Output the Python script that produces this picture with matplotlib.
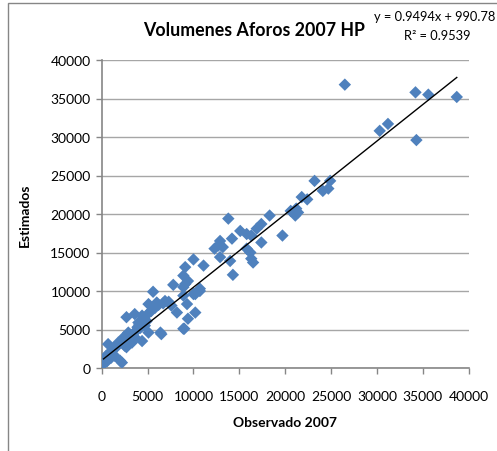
import numpy as np
import matplotlib.pyplot as plt
from matplotlib.patches import Rectangle

# observed vs estimated volumes (veh/h)
observado = [26500, 34200, 35600, 38700, 30300, 31200, 34300,
             23200, 24900, 24100, 24700, 21800, 22400, 20600, 21200, 21100, 21400,
             18300, 19700, 13800, 17400, 16900, 15100, 15800, 16300, 14200, 12900,
             12700, 13200, 12300, 17400, 15800, 16200, 16300, 16500, 12900, 14000,
             14300, 11100, 10000, 9100, 8900, 9400, 7800, 8900, 10700, 10000, 5600,
             9100, 10200, 8900, 6900, 6000, 5100, 7600, 8200, 9300, 10200, 9400,
             8900, 6400, 2700, 3600, 4400, 4000, 4700, 5100, 4400, 3600, 2900,
             2400, 1800, 2500, 700, 1100, 2000, 200, 500, 1400, 2700, 3300, 5400,
             4900, 9000, 6500, 2200, 10700, 3000, 3800, 4200, 1500, 800, 300,
             1200, 3100, 4600, 5800, 6700, 7300, 2300, 3500, 4100, 600, 1700,
             5000, 6200, 3900, 2800, 1000, 4800]
estimados = [36800, 35800, 35500, 35200, 30800, 31700, 29600,
             24300, 24300, 23000, 23300, 22200, 21900, 20400, 20700, 19800, 20200,
             19800, 17200, 19400, 18700, 18100, 17800, 17400, 17200, 16800, 16500,
             15900, 15700, 15500, 16300, 15500, 15000, 14200, 13700, 14400, 13900,
             12100, 13300, 14100, 13100, 12000, 11300, 10800, 10500, 10300, 9600, 9900,
             10900, 9600, 9400, 8700, 8500, 8300, 8100, 7200, 8300, 7200, 6400,
             5100, 4600, 6600, 7000, 6800, 5900, 5500, 4600, 3500, 4000, 4600,
             4000, 3300, 2900, 3100, 2200, 950, 500, 1600, 1600, 2700, 3300, 7400,
             6100, 5100, 4400, 700, 10000, 3800, 4900, 5200, 2600, 1900, 1100,
             2400, 4300, 6400, 7800, 8400, 8600, 3600, 4500, 5600, 900, 3000,
             7000, 8200, 5300, 4200, 1300, 6000]

slope = 0.9494
intercept = 990.78
r2 = 0.9539

x_ticks = np.arange(0, 40001, 5000)
y_ticks = np.arange(0, 40001, 5000)

plt.rcParams['font.family'] = ['Lato', 'DejaVu Sans']

fig = plt.figure(figsize=(4.97, 4.52), dpi=100)
ax = fig.add_axes([101.7 / 497, 1 - 369 / 452, 367 / 497, 308 / 452])

# chart frame
fig.patches.append(Rectangle((8 / 497, -0.01), 1.0, 1 - 4 / 452 + 0.01,
                             transform=fig.transFigure, fill=False,
                             edgecolor='#868686', linewidth=1.0))

ax.scatter(observado, estimados, marker='D', s=40, color='#4F81BD',
           edgecolors='none', zorder=3)

xl = np.array([min(observado), max(observado)])
ax.plot(xl, slope * xl + intercept, color='black', linewidth=1.0, zorder=4)

ax.set_xlim(0, 40000)
ax.set_ylim(0, 40000)
ax.set_xticks(x_ticks)
ax.set_yticks(y_ticks)
ax.tick_params(labelsize=10, colors='#868686', labelcolor='black', length=4, width=1)
ax.tick_params(axis='x', pad=12)
ax.tick_params(axis='y', pad=4)
ax.yaxis.grid(True, color='#a6a6a6', linewidth=1.0)
ax.set_axisbelow(True)
for side in ['top', 'right']:
    ax.spines[side].set_visible(False)
for side in ['left', 'bottom']:
    ax.spines[side].set_color('#868686')
    ax.spines[side].set_linewidth(1.2)

ax.set_xlabel('Observado 2007', fontsize=10, fontweight='bold', labelpad=10)
ax.set_ylabel('Estimados', fontsize=10, fontweight='bold', labelpad=14)

fig.text(254 / 497, 1 - 30 / 452, 'Volumenes Aforos 2007 HP', fontsize=12.8,
         fontweight='bold', ha='center', va='center')
fig.text(495 / 497, 1 - 17 / 452, 'y = %.4fx + %.2f' % (slope, intercept),
         fontsize=9.3, ha='right', va='center')
fig.text(437 / 497, 1 - 36 / 452, 'R² = %.4f' % r2,
         fontsize=9.3, ha='center', va='center')

fig.savefig('out.png', dpi=100)
